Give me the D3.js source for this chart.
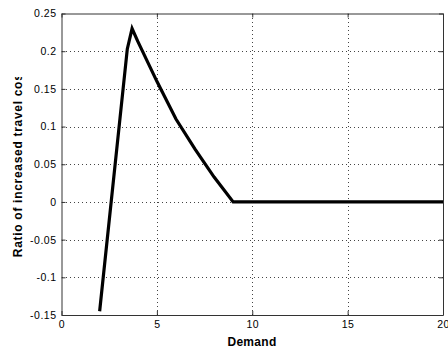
<!DOCTYPE html>
<html>
<head>
<meta charset="utf-8">
<script src="https://cdn.jsdelivr.net/npm/d3@7"></script>
<style>
  html, body { margin: 0; padding: 0; background: #fff; }
  svg { display: block; }
  text { font-family: "Liberation Sans", Arial, Helvetica, sans-serif; }
</style>
</head>
<body>
<svg id="chart" width="448" height="352"></svg>
<script>
// Demand vs. ratio of increased travel cost
const demand = [2, 3.45, 3.7, 4, 5, 6, 7, 8, 9, 10, 11, 12, 13, 14, 15, 16, 17, 18, 19, 20];
const ratio  = [-0.145, 0.203, 0.23, 0.213, 0.16, 0.11, 0.07, 0.033, 0, 0, 0, 0, 0, 0, 0, 0, 0, 0, 0, 0];
const xTicks = [0, 5, 10, 15, 20];
const yTicks = [-0.15, -0.1, -0.05, 0, 0.05, 0.1, 0.15, 0.2, 0.25];
const xLabel = "Demand";
const yLabel = "Ratio of increased travel cost";

const svg = d3.select("#chart");
const plotLeft = 61.5, plotRight = 443, plotTop = 13.5, plotBottom = 315;

const x = d3.scaleLinear().domain([0, 20]).range([plotLeft, plotRight]);
const y = d3.scaleLinear().domain([-0.15, 0.25]).range([plotBottom, plotTop]);

// dotted grid
const grid = svg.append("g").attr("stroke", "#444").attr("stroke-width", 1)
  .attr("stroke-dasharray", "1,3").attr("shape-rendering", "crispEdges");
grid.selectAll(".gx").data(xTicks.slice(1, -1)).join("line")
  .attr("x1", d => Math.round(x(d)) + 0.5).attr("x2", d => Math.round(x(d)) + 0.5)
  .attr("y1", plotTop).attr("y2", plotBottom);
grid.selectAll(".gy").data(yTicks.slice(1, -1)).join("line")
  .attr("y1", d => Math.round(y(d)) + 0.5).attr("y2", d => Math.round(y(d)) + 0.5)
  .attr("x1", plotLeft).attr("x2", plotRight);

// axes with inward ticks
const fmt = d => d3.format("")(d).replace("−", "-");
const xAxis = svg.append("g").attr("transform", `translate(0,${plotBottom})`)
  .call(d3.axisBottom(x).tickValues(xTicks).tickSizeInner(-4).tickSizeOuter(0).tickPadding(6).tickFormat(fmt));
const xAxisTop = svg.append("g").attr("transform", `translate(0,${plotTop})`)
  .call(d3.axisTop(x).tickValues(xTicks).tickSizeInner(-4).tickSizeOuter(0).tickFormat(""));
const yAxis = svg.append("g").attr("transform", `translate(${plotLeft},0)`)
  .call(d3.axisLeft(y).tickValues(yTicks).tickSizeInner(-4).tickSizeOuter(0).tickPadding(5).tickFormat(fmt));
const yAxisRight = svg.append("g").attr("transform", `translate(${plotRight},0)`)
  .call(d3.axisRight(y).tickValues(yTicks).tickSizeInner(-4).tickSizeOuter(0).tickFormat(""));

[xAxis, xAxisTop, yAxis, yAxisRight].forEach(g => {
  g.select(".domain").attr("stroke", "#333");
  g.selectAll(".tick line").attr("stroke", "#333");
  g.selectAll("text").attr("fill", "#000").attr("font-size", 10.5)
    .attr("letter-spacing", "0.5px")
    .attr("font-family", "'Liberation Sans', Arial, sans-serif");
});

// data line
svg.append("path")
  .datum(demand.map((d, i) => [d, ratio[i]]))
  .attr("fill", "none").attr("stroke", "#000").attr("stroke-width", 3.2)
  .attr("stroke-linejoin", "miter")
  .attr("d", d3.line().x(d => x(d[0])).y(d => y(d[1])));

// axis titles
svg.append("text").attr("x", 252).attr("y", 346).attr("text-anchor", "middle")
  .attr("font-size", 12).attr("font-weight", "bold").attr("letter-spacing", "0.3px").text(xLabel);

svg.append("clipPath").attr("id", "ylab-clip")
  .append("rect").attr("x", 0).attr("y", 77).attr("width", 40).attr("height", 275);
svg.append("g").attr("clip-path", "url(#ylab-clip)")
  .append("text")
  .attr("transform", "translate(22,163) rotate(-90)")
  .attr("text-anchor", "middle").attr("font-size", 12).attr("font-weight", "bold")
  .attr("letter-spacing", "0.7px")
  .text(yLabel);
</script>
</body>
</html>
